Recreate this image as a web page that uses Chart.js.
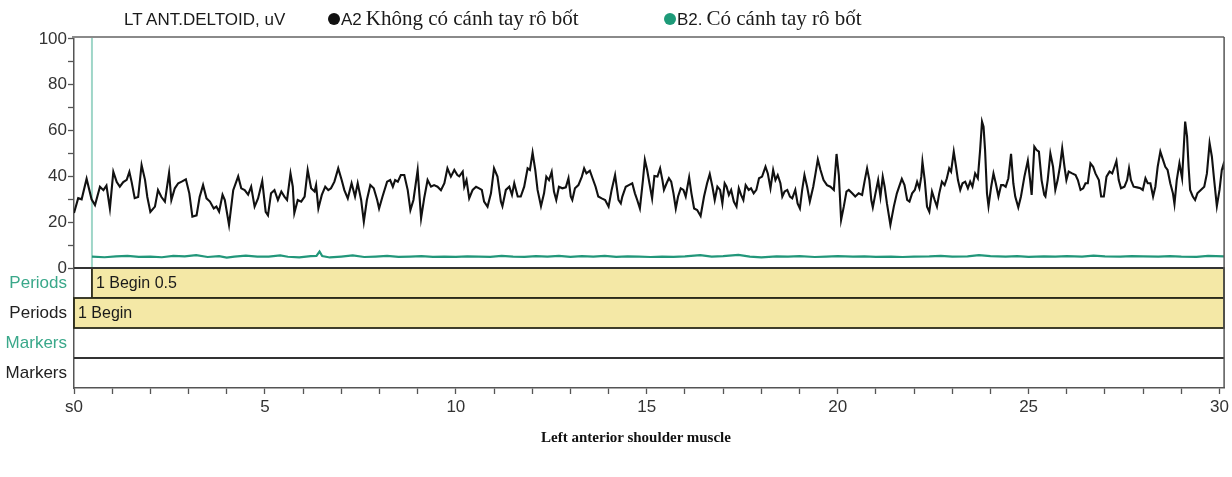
<!DOCTYPE html>
<html>
<head>
<meta charset="utf-8">
<script src="https://cdn.jsdelivr.net/npm/chart.js@4.4.1/dist/chart.umd.min.js"></script>
<style>
  body { margin: 0; background: #fff; }
  #wrap { position: relative; width: 1232px; height: 477px; }
  #wrap canvas { position: absolute; left: 0; top: 0; }
  .hdr { position: absolute; top: 6px; white-space: nowrap; color: #1a1a1a; }
  .sans { font-family: "Liberation Sans", Arial, sans-serif; font-size: 17px; }
  .serif { font-family: "Liberation Serif", "Times New Roman", serif; font-size: 21px; }
  .dot { position: absolute; top: 13px; width: 12px; height: 12px; border-radius: 50%; }
  #caption { position: absolute; left: 0; width: 1272px; top: 429px; text-align: center;
    font-family: "Liberation Serif", "Times New Roman", serif; font-weight: bold; font-size: 15px; color: #111; }
</style>
</head>
<body>
<div id="wrap">
  <canvas id="emgChart" width="1232" height="477"></canvas>
  <div class="hdr sans" style="left:124px; top:10px">LT ANT.DELTOID, uV</div>
  <div class="dot" style="left:328px; background:#111"></div>
  <div class="hdr" style="left:341px"><span class="sans">A2</span> <span class="serif">Không có cánh tay rô bốt</span></div>
  <div class="dot" style="left:664px; background:#1d9a78"></div>
  <div class="hdr" style="left:677px"><span class="sans">B2.</span> <span class="serif">Có cánh tay rô bốt</span></div>
  <div id="caption">Left anterior shoulder muscle</div>
</div>
<script>
// A2 - without robot arm (black trace), seconds / uV
const a2Time = [0, 0.11, 0.2, 0.33, 0.46, 0.55, 0.68, 0.77, 0.85, 0.94, 1.03, 1.12, 1.2, 1.29, 1.38, 1.45, 1.51, 1.59, 1.68, 1.77,
  1.86, 1.92, 2.0, 2.12, 2.2, 2.29, 2.38, 2.49, 2.55, 2.64, 2.73, 2.82, 2.93, 3.02, 3.1, 3.21, 3.29, 3.38, 3.47, 3.56,
  3.66, 3.73, 3.8, 3.89, 3.95, 4.06, 4.17, 4.3, 4.38, 4.47, 4.56, 4.64, 4.73, 4.82, 4.93, 5.02,
  5.08, 5.16, 5.25, 5.34, 5.43, 5.51, 5.58, 5.67, 5.73, 5.77, 5.86, 5.95, 6.04, 6.12, 6.21, 6.3, 6.34, 6.4, 6.49, 6.58,
  6.66, 6.73, 6.82, 6.92, 7.01, 7.08, 7.17, 7.27, 7.36, 7.43, 7.52, 7.59, 7.67, 7.76, 7.85, 7.94, 7.99, 8.08, 8.2, 8.28,
  8.35, 8.41, 8.48, 8.56, 8.65, 8.74, 8.81, 8.89, 9.0, 9.09, 9.17, 9.26, 9.35, 9.43, 9.52, 9.61, 9.7, 9.78, 9.87, 9.96,
  10.04, 10.09, 10.18, 10.22, 10.28, 10.35, 10.44, 10.53, 10.61, 10.68, 10.74, 10.83, 10.92, 11.0, 11.09, 11.18, 11.22,
  11.31, 11.4, 11.47, 11.53, 11.62, 11.7, 11.79, 11.88, 11.94, 12.01, 12.08, 12.14, 12.23, 12.31, 12.37, 12.44, 12.51,
  12.57, 12.63, 12.7, 12.79, 12.88, 12.95, 13.01, 13.05, 13.12, 13.21, 13.3, 13.36, 13.42, 13.51, 13.58, 13.66, 13.73,
  13.82, 13.91, 14.0, 14.08, 14.17, 14.26, 14.32, 14.36, 14.45, 14.53, 14.62, 14.69, 14.75, 14.82, 14.9, 14.95, 15.01,
  15.07, 15.14, 15.2, 15.28, 15.35, 15.41, 15.45, 15.52, 15.58, 15.64, 15.7, 15.76, 15.82, 15.89, 15.96, 16.02, 16.11,
  16.17, 16.24, 16.32, 16.41, 16.5, 16.58, 16.65, 16.72, 16.78, 16.85, 16.92, 16.98, 17.04, 17.09, 17.15, 17.21, 17.28,
  17.35, 17.41, 17.47, 17.53, 17.59, 17.67, 17.73, 17.8, 17.87, 17.94, 18.02, 18.11, 18.17, 18.24, 18.31, 18.37, 18.43,
  18.5, 18.55, 18.61, 18.68, 18.75, 18.81, 18.89, 18.95, 19.01, 19.07, 19.13, 19.2, 19.27, 19.36, 19.42, 19.48, 19.55,
  19.63, 19.72, 19.81, 19.9, 19.97, 20.03, 20.09, 20.16, 20.23, 20.29, 20.38, 20.46, 20.55, 20.64, 20.71, 20.77, 20.83,
  20.88, 20.92, 20.99, 21.06, 21.12, 21.18, 21.23, 21.29, 21.38, 21.47, 21.55, 21.61, 21.68, 21.75, 21.82, 21.88, 21.95,
  22.02, 22.08, 22.14, 22.19, 22.22, 22.28, 22.34, 22.4, 22.47, 22.54, 22.6, 22.66, 22.73, 22.8, 22.86, 22.92, 22.97,
  23.04, 23.1, 23.15, 23.21, 23.27, 23.34, 23.41, 23.47, 23.53, 23.6, 23.67, 23.73, 23.78, 23.82, 23.86, 23.91, 23.95,
  24.02, 24.08, 24.14, 24.21, 24.28, 24.34, 24.4, 24.47, 24.54, 24.6, 24.65, 24.73, 24.8, 24.89, 24.98, 25.04, 25.08,
  25.15, 25.21, 25.27, 25.34, 25.41, 25.44, 25.5, 25.57, 25.64, 25.7, 25.76, 25.82, 25.88, 25.94, 25.99, 26.05, 26.14,
  26.23, 26.29, 26.36, 26.43, 26.49, 26.55, 26.62, 26.69, 26.75, 26.84, 26.9, 26.97, 27.04, 27.12, 27.19, 27.25, 27.3,
  27.36, 27.42, 27.51, 27.58, 27.63, 27.68, 27.75, 27.84, 27.93, 27.99, 28.06, 28.12, 28.19, 28.26, 28.32, 28.38, 28.45,
  28.52, 28.58, 28.64, 28.71, 28.78, 28.82, 28.88, 28.95, 29.02, 29.06, 29.1, 29.15, 29.19, 29.23, 29.3, 29.36, 29.42,
  29.51, 29.6, 29.67, 29.74, 29.8, 29.86, 29.93, 30.0, 30.06, 30.1, 30.12];
const a2Value = [24, 30.5, 30, 39, 30, 27.5, 35.5, 34, 36, 26, 42, 37.5, 35.5, 37.5, 38.5, 42, 37.5, 30.5, 31, 45,
  38.5, 31, 24.5, 26.8, 34, 31, 29, 41.5, 29.7, 34.8, 37, 37.7, 38.7, 32.6, 22.4, 23, 31, 36.2, 30.4, 29,
  26, 26.8, 24.6, 32, 29.7, 18.8, 34, 40, 34.8, 34, 32, 35.5, 26.8, 30.4, 38, 24.5,
  23, 32.6, 34, 29.7, 33.4, 31.2, 29.7, 41.3, 35.5, 24, 29.7, 29, 31.2, 42.8, 34.8, 33.4, 36.2, 26, 31.9, 35.5,
  34, 34.8, 37.7, 43.5, 38.4, 34, 30.4, 37, 31.2, 37, 29.7, 20.2, 29.7, 36.2, 34.8, 29.7, 26, 31.2, 37.7, 38.4,
  35.5, 38.4, 37.7, 40.6, 40.6, 34, 25.3, 29.7, 42.8, 21.7, 30.4, 38.4, 35.5, 36.2, 35.5, 34, 37, 43.5, 39.9, 42.8,
  40.6, 40, 42.1, 35.5, 38.4, 30.4, 34.1, 35.5, 34.8, 34.1, 29, 26.8, 32.6, 43.5, 39.9, 29, 27,
  34.1, 35.5, 31.9, 37, 31.2, 31.2, 35.5, 43.5, 42.8, 50.4, 42.8, 34.1, 27, 32.6, 39.9, 38.4, 42,
  33.4, 29.7, 35.5, 34.8, 35.2, 39.2, 31.2, 29.7, 34.8, 36.2, 39.9, 43.5, 41.3, 42.5, 39.2, 35.5, 31.2,
  30.4, 29.7, 26.8, 34.1, 40.6, 29.7, 28.2, 31.2, 35.5, 36.2, 37, 32.6, 29.7, 26, 38.4, 47.2, 42.8,
  37, 30.4, 40.2, 39.9, 43.5, 38.4, 34.1, 37, 39.2, 37.7, 32.6, 26, 31.2, 34.8, 34.1, 31.2, 39.6,
  32.6, 26, 25.3, 22.7, 31.2, 37, 41, 35.5, 29.7, 35.5, 34.1, 28.2, 37, 35.5, 31.9, 34.1, 29,
  26.8, 34.8, 31.9, 29.7, 36.2, 34.1, 34.8, 32.6, 34.1, 39.2, 39.9, 44.2, 41.3, 34.8, 42.8, 38.4, 40.6,
  37, 31.2, 33.4, 34.1, 31.2, 30.4, 34.1, 28.2, 26, 34.1, 40.6, 35.5, 29, 35.5, 41.3, 47.4, 42.8,
  38.4, 36.2, 35.5, 34.1, 49.8, 40.6, 21, 26.8, 33.4, 34.1, 32.6, 31.2, 32.6, 31.9, 38.4, 43.5, 38.4,
  29.7, 26.5, 32.6, 38.4, 31.2, 39.9, 35.5, 28.2, 18.8, 26.8, 32.6, 35.5, 38.9, 36.2, 29.7, 29, 32.6,
  34.1, 37.7, 34.8, 39.9, 46.4, 38.4, 26.8, 24.6, 33.4, 29.7, 26.8, 32.6, 37.7, 36.2, 39.2, 43.5, 42.1,
  50.8, 44.2, 38.4, 34.1, 37, 37.7, 34.8, 37.7, 35.5, 41.3, 39.2, 51.5, 63.9, 61.7, 51.5, 32.6, 27,
  35.5, 41.3, 37, 31.2, 36.2, 36.2, 35.5, 39.2, 49.8, 37, 31.2, 26.5, 31.2, 39.9, 46.9, 38.4, 31.9,
  53, 51.5, 50.8, 38.4, 31.9, 31.2, 38.4, 50, 44.2, 34.1, 38.4, 44.2, 52.3, 44.2, 38.4, 42.1, 41.3,
  40.6, 38.4, 34.1, 34.8, 37, 37, 45.7, 44.2, 41.3, 38.4, 31.2, 31.2, 39.9, 42.1, 41.3, 44.2, 46.7,
  38.4, 34.8, 35.5, 38.4, 43.5, 38.4, 35.5, 35.2, 34.8, 34.1, 39.2, 37, 37, 31.2, 35.5, 44.2, 50.8,
  47.2, 44.2, 42.8, 37, 32.6, 28, 38.4, 45.7, 39.2, 51.5, 63.9, 57.4, 44.2, 34.1, 31.2, 29.7, 32.6,
  34.1, 35.5, 41.3, 54.5, 48.6, 38.4, 27, 34.1, 42.8, 45, 43];

// B2 - with robot arm (green trace)
const b2Time = [0.47, 0.8, 1.1, 1.4, 1.7, 2.0, 2.3, 2.6, 2.9, 3.2, 3.5, 3.8, 4.0, 4.2, 4.5, 4.8, 5.1, 5.4, 5.6, 5.9,
  6.2, 6.35, 6.43, 6.5, 6.7, 7.0, 7.3, 7.6, 7.9, 8.2, 8.5, 8.8, 9.1, 9.4, 9.7, 10.0, 10.3, 10.6, 10.9, 11.2,
  11.5, 11.8, 12.1, 12.4, 12.7, 13.0, 13.3, 13.6, 13.9, 14.2, 14.5, 14.8, 15.1, 15.4, 15.7, 16.0, 16.4, 16.7, 17.0, 17.4,
  17.7, 18.0, 18.4, 18.7, 19.0, 19.4, 19.7, 20.0, 20.4, 20.7, 21.0, 21.4, 21.7, 22.0, 22.4, 22.7, 23.0, 23.4, 23.7, 24.0,
  24.4, 24.7, 25.0, 25.4, 25.7, 26.0, 26.4, 26.7, 27.0, 27.4, 27.7, 28.0, 28.4, 28.7, 29.0, 29.4, 29.7, 30.12];
const b2Value = [5.0, 4.7, 5.1, 5.3, 4.9, 5.0, 4.7, 5.3, 5.1, 5.6, 4.8, 5.2, 4.5, 5.0, 5.4, 5.0, 5.0, 5.5, 4.9, 4.6,
  5.2, 5.3, 7.2, 5.2, 4.6, 5.0, 5.5, 4.8, 5.0, 5.3, 4.9, 5.0, 5.2, 4.9, 5.0, 4.9, 5.1, 5.0, 4.9, 5.3,
  5.0, 4.9, 5.2, 5.0, 5.3, 4.9, 5.2, 5.0, 5.3, 4.9, 5.1, 5.0, 4.8, 5.0, 4.9, 5.1, 5.6, 5.0, 5.2, 5.7,
  5.0, 4.6, 5.1, 5.0, 5.2, 4.8, 5.0, 5.2, 5.0, 5.1, 4.9, 5.0, 4.8, 5.0, 5.1, 5.3, 5.0, 5.1, 5.6, 5.2,
  5.0, 5.2, 4.9, 5.1, 5.0, 5.2, 5.0, 5.4, 5.1, 5.0, 5.2, 5.1, 5.0, 5.2, 5.0, 4.9, 5.3, 5.1];

// lanes under the trace
const periodStart = [0.47, 0];
const periodText = ['1 Begin 0.5', '1 Begin'];
const laneLabels = ['Periods', 'Periods', 'Markers', 'Markers'];
const laneColors = ['#3aa88a', '#222', '#3aa88a', '#222'];

// tick labels
const yTickValues = [0, 10, 20, 30, 40, 50, 60, 70, 80, 90, 100];
const yTickLabels = ['0', '', '20', '', '40', '', '60', '', '80', '', '100'];
const xTickLabels = ['s0', '5', '10', '15', '20', '25', '30'];

const X_MAX = 30.12;
const laneEdges = [0, -13.1, -26.2, -39.3, -52.4];
const laneMid = i => (laneEdges[i] + laneEdges[i + 1]) / 2;
const axisFont = { family: '"Liberation Sans", Arial, sans-serif', size: 17 };

const lanesPlugin = {
    id: 'lanes',
    beforeDatasetsDraw(chart) {
        const { ctx, chartArea: a, scales: { x, y } } = chart;
        // cursor at period start
        ctx.save();
        ctx.strokeStyle = '#9fd6c8';
        ctx.lineWidth = 2;
        ctx.beginPath();
        ctx.moveTo(x.getPixelForValue(periodStart[0]), a.top);
        ctx.lineTo(x.getPixelForValue(periodStart[0]), y.getPixelForValue(0));
        ctx.stroke();
        ctx.restore();
    },
    afterDatasetsDraw(chart) {
        const { ctx, chartArea: a, scales: { x, y } } = chart;
        ctx.save();
        periodStart.forEach((start, i) => {
            const left = x.getPixelForValue(start);
            const top = y.getPixelForValue(laneEdges[i]);
            const bottom = y.getPixelForValue(laneEdges[i + 1]);
            ctx.fillStyle = '#f4e8a6';
            ctx.fillRect(left, top, a.right - left, bottom - top);
            ctx.strokeStyle = '#2a2a1a';
            ctx.lineWidth = 1.8;
            ctx.strokeRect(left, top, a.right - left, bottom - top);
            ctx.fillStyle = '#1a1a1a';
            ctx.font = '16px "Liberation Sans", Arial, sans-serif';
            ctx.textBaseline = 'middle';
            ctx.fillText(periodText[i], left + 4, (top + bottom) / 2 + 1);
        });
        // lane separators
        ctx.strokeStyle = '#333';
        ctx.lineWidth = 2;
        [0, 3].forEach(i => {
            const py = y.getPixelForValue(laneEdges[i]);
            ctx.beginPath();
            ctx.moveTo(a.left, py);
            ctx.lineTo(a.right, py);
            ctx.stroke();
        });
        // frame: top and right
        ctx.strokeStyle = '#8a8a8a';
        ctx.beginPath();
        ctx.moveTo(a.left - 2, a.top);
        ctx.lineTo(a.right, a.top);
        ctx.stroke();
        ctx.strokeStyle = '#555';
        ctx.lineWidth = 1.5;
        ctx.beginPath();
        ctx.moveTo(a.right, a.top);
        ctx.lineTo(a.right, a.bottom);
        ctx.stroke();
        ctx.restore();
    }
};

const ctx = document.getElementById('emgChart').getContext('2d');
const emgChart = new Chart(ctx, {
    type: 'line',
    data: {
        datasets: [{
            label: 'A2 Không có cánh tay rô bốt',
            data: a2Time.map((t, i) => ({ x: t, y: a2Value[i] })),
            borderColor: '#111',
            borderWidth: 2.1,
            pointRadius: 0,
            tension: 0
        }, {
            label: 'B2. Có cánh tay rô bốt',
            data: b2Time.map((t, i) => ({ x: t, y: b2Value[i] })),
            borderColor: '#22977a',
            borderWidth: 2.2,
            pointRadius: 0,
            tension: 0
        }]
    },
    options: {
        responsive: false,
        animation: false,
        layout: { padding: { left: 0, right: 6, top: 37, bottom: 0 } },
        plugins: { legend: { display: false }, tooltip: { enabled: false } },
        scales: {
            x: {
                type: 'linear',
                min: 0,
                max: X_MAX,
                afterFit: s => { s.height = 89; },
                afterBuildTicks: s => {
                    const ticks = [];
                    for (let v = 0; v <= 30; v++) ticks.push({ value: v });
                    s.ticks = ticks;
                },
                grid: { drawOnChartArea: false, tickLength: 6, tickColor: '#555', tickWidth: 1.3 },
                border: { color: '#555', width: 1.5 },
                ticks: {
                    autoSkip: false,
                    maxRotation: 0,
                    padding: 3,
                    color: '#333',
                    font: axisFont,
                    callback: v => (v % 5 === 0 ? xTickLabels[v / 5] : '')
                }
            },
            y: {
                type: 'linear',
                min: laneEdges[4],
                max: 100.87,
                afterFit: s => { s.width = 74; },
                afterBuildTicks: s => {
                    s.ticks = yTickValues.map(v => ({ value: v }))
                        .concat(laneLabels.map((l, i) => ({ value: laneMid(i) })));
                },
                grid: {
                    drawOnChartArea: false,
                    tickLength: 6,
                    tickWidth: 1.3,
                    tickColor: c => (c.tick && c.tick.value < 0 ? 'rgba(0,0,0,0)' : '#555')
                },
                border: { color: '#555', width: 1.5 },
                ticks: {
                    autoSkip: false,
                    padding: 1,
                    font: axisFont,
                    color: c => {
                        if (!c.tick || c.tick.value >= 0) return '#333';
                        return laneColors[c.index - yTickValues.length];
                    },
                    callback: (v, i) => (i < yTickValues.length ? yTickLabels[i] : laneLabels[i - yTickValues.length])
                }
            }
        }
    },
    plugins: [lanesPlugin]
});
</script>
</body>
</html>
